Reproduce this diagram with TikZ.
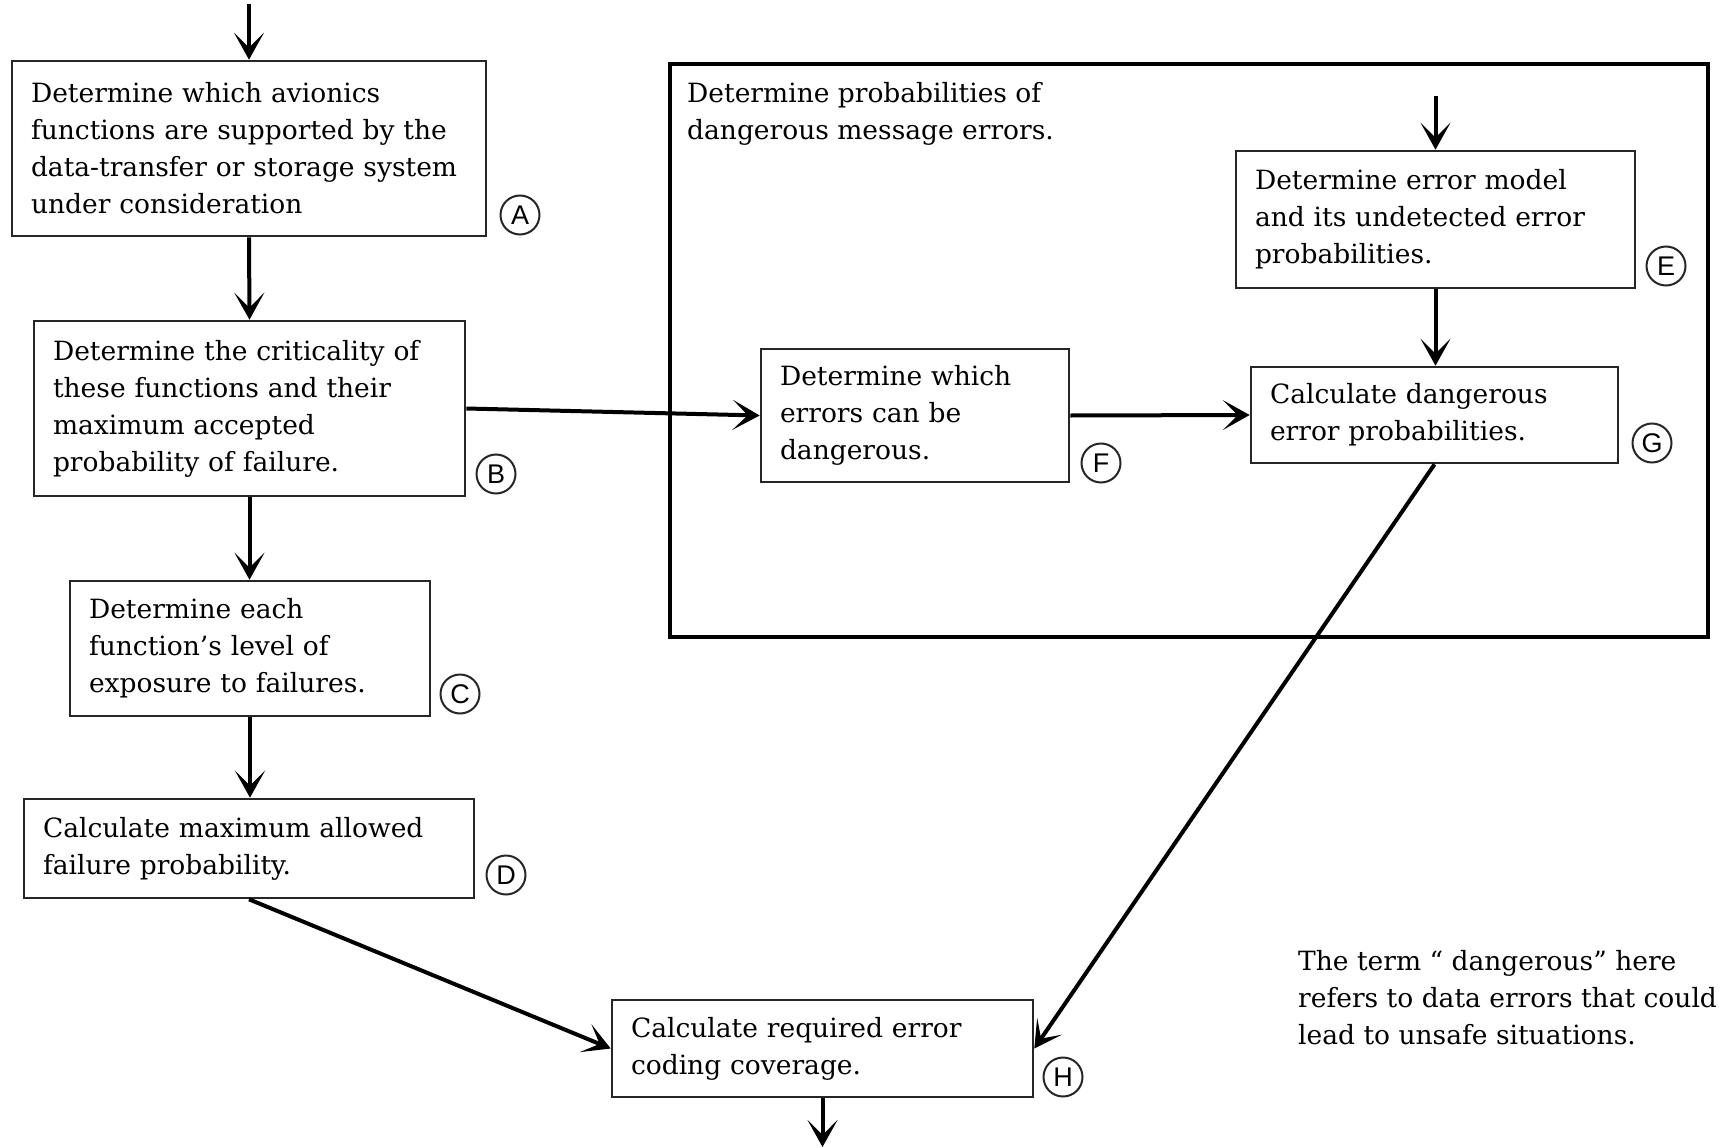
\documentclass[tikz,border=0pt]{standalone}
\usepackage{fontspec}
\setmainfont{DejaVu Serif}
\newfontfamily\lblfont{Liberation Sans}
\usetikzlibrary{arrows.meta}
\tikzset{
  box/.style={draw=black!85, line width=2.6pt, rectangle, inner xsep=19pt, inner ysep=0pt,
    align=left, font=\fontsize{26.5}{37}\selectfont},
  arr/.style={line width=4pt, -{Stealth[length=27pt,width=30pt,inset=15pt]}},
  lbl/.style={draw=black!85, circle, line width=2pt, minimum size=39pt, inner sep=0pt,
    font=\lblfont\fontsize{27}{27}\selectfont},
  plain/.style={align=left, inner sep=0pt, font=\fontsize{26.5}{37}\selectfont, anchor=north west}
}
\begin{document}
\begin{tikzpicture}[x=1pt,y=-1pt]
\useasboundingbox (0,0) rectangle (1719,1148);
% frame
\draw[line width=4.5pt] (670,64) rectangle (1708,637);
\node[plain] (title) at (687,82) {Determine probabilities of\\dangerous message errors.};
% boxes
\node[box, minimum width=474pt, minimum height=175pt, text width=436pt] (A) at (249,148.5)
  {Determine which avionics\\functions are supported by the\\data-transfer or storage system\\under consideration};
\node[box, minimum width=431pt, minimum height=175pt, text width=393pt] (B) at (249.5,408.5)
  {Determine the criticality of\\these functions and their\\maximum accepted\\probability of failure.};
\node[box, minimum width=360pt, minimum height=135pt, text width=322pt] (C) at (250,648.5)
  {Determine each\\function’s level of\\exposure to failures.};
\node[box, minimum width=450pt, minimum height=99pt, text width=412pt] (D) at (249,848.5)
  {Calculate maximum allowed\\failure probability.};
\node[box, minimum width=399pt, minimum height=137pt, text width=361pt] (E) at (1435.5,219.5)
  {Determine error model\\and its undetected error\\probabilities.};
\node[box, minimum width=308pt, minimum height=133pt, text width=270pt] (F) at (915,415.5)
  {Determine which\\errors can be\\dangerous.};
\node[box, minimum width=367pt, minimum height=96pt, text width=329pt] (G) at (1434.5,415)
  {Calculate dangerous\\error probabilities.};
\node[box, minimum width=421pt, minimum height=97pt, text width=383pt] (H) at (822.5,1048.5)
  {Calculate required error\\coding coverage.};
\node[plain] (note) at (1298,950) {The term “ dangerous” here\\refers to data errors that could\\lead to unsafe situations.};
% labels
\node[lbl] (la) at (520,215) {A};
\node[lbl] (lb) at (496,474) {B};
\node[lbl] (lc) at (460,694) {C};
\node[lbl] (ld) at (506,875) {D};
\node[lbl] (le) at (1666,266) {E};
\node[lbl] (lf) at (1101,463) {F};
\node[lbl] (lg) at (1652,443) {G};
\node[lbl] (lh) at (1063,1077) {H};
% connectors
\coordinate (inA) at (249,4);
\coordinate (inE) at (1435.5,96);
\coordinate (outH) at (822.5,1147);
\draw[arr] (inA) -- (A.north);
\draw[arr] (A.south) -- (B.north);
\draw[arr] (B.south) -- (C.north -| B.south);
\draw[arr] (C.south) -- (D.north -| C.south);
\draw[arr] (B.east) -- (F.west);
\draw[arr] (F.east) -- (G.west);
\draw[arr] (inE) -- (E.north);
\draw[arr] (E.south) -- (G.north -| E.south);
\draw[arr] (G.south) -- (H.east);
\draw[arr] (D.south) -- (H.west);
\draw[arr] (H.south) -- (outH);
\end{tikzpicture}
\end{document}
